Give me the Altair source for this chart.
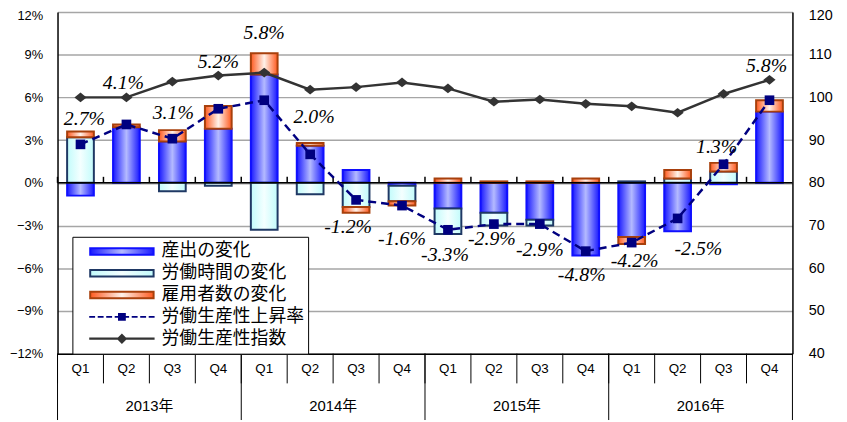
import altair as alt
import pandas as pd

# ---------------- data ----------------
years = ["2013年", "2014年", "2015年", "2016年"]
quarters = ["Q1", "Q2", "Q3", "Q4"]
series_names = ["産出の変化", "労働時間の変化", "雇用者数の変化", "労働生産性上昇率", "労働生産性指数"]

output_chg = [-0.9, 3.9, 2.9, 3.8, 7.6, 2.6, 0.9, -0.2, -1.8, -2.1, -2.6, -5.1, -3.8, -3.4, -0.1, 5.0]
hours_chg = [3.2, 0.0, -0.6, -0.2, -3.3, -0.8, -1.7, -1.1, -1.8, -0.9, -0.4, 0.0, 0.1, 0.3, 0.8, 0.0]
employ_chg = [0.4, 0.2, 0.8, 1.6, 1.5, 0.2, -0.4, -0.3, 0.3, 0.1, 0.1, 0.3, -0.5, 0.6, 0.6, 0.8]
prod_rate = [2.7, 4.1, 3.1, 5.2, 5.8, 2.0, -1.2, -1.6, -3.3, -2.9, -2.9, -4.8, -4.2, -2.5, 1.3, 5.8]
prod_index = [100.0, 100.0, 103.7, 105.1, 105.8, 101.8, 102.4, 103.5, 102.1, 99.0, 99.5, 98.5, 97.9, 96.4, 100.8, 104.1]

# annotation placement (in % units of the left axis) and horizontal nudge
label_pos = [4.5, 7.0, 4.9, 8.5, 10.5, 4.6, -3.1, -3.95, -5.05, -3.95, -4.7, -6.45, -5.5, -4.65, 2.5, 8.2]
label_dx = [4, -3, 1, 0, 0, 4, -8, 0, -3, -2, 0, -4, 3, 21, -7, -3]

cats = [f"{y[:4]}-{q}" for y in years for q in quarters]

# ---------------- tables ----------------
rows = []
for i, c in enumerate(cats):
    pos, neg = 0.0, 0.0
    for s, vals in zip(series_names[:3], [output_chg, hours_chg, employ_chg]):
        v = vals[i]
        if v == 0:
            continue
        if v > 0:
            y0 = pos
            pos += v
        else:
            y0 = neg
            neg += v
        rows.append(dict(cat=c, series=s, y0=y0, y1=y0 + v))
bars_df = pd.DataFrame(rows)

line_df = pd.DataFrame(dict(cat=cats, rate=prod_rate, index=prod_index,
                            lpos=label_pos, ldx=label_dx,
                            label=[f"{v:.1f}%" for v in prod_rate]))
cat_df = pd.DataFrame(dict(cat=cats))
year_start_df = pd.DataFrame(dict(cat=[c for c in cats if c.endswith("Q1")]))
year_end_df = pd.DataFrame(dict(cat=[cats[-1]]))
year_lab_df = pd.DataFrame(dict(cat=[c for c in cats if c.endswith("Q2")], year=years))
legend_df = pd.DataFrame(dict(series=series_names))

# ---------------- styles ----------------
W, H = 742, 345
SANS = "Liberation Sans, Arial, Noto Sans CJK JP"


def grad(edge, center):
    return alt.LinearGradient(
        gradient="linear", x1=0, x2=1, y1=0, y2=0,
        stops=[alt.GradientStop(offset=0, color=edge),
               alt.GradientStop(offset=0.5, color=center),
               alt.GradientStop(offset=1, color=edge)])


def grad_expr(edge, center):
    return ("{gradient:'linear',x1:0,x2:1,y1:0,y2:0,stops:["
            f"{{offset:0,color:'{edge}'}},{{offset:0.5,color:'{center}'}},{{offset:1,color:'{edge}'}}]}}")


bar_styles = {
    "産出の変化": (("#1a1aff", "#b4baff"), "#1010ff"),
    "労働時間の変化": (("#c2fbfb", "#f4ffff"), "#1f3864"),
    "雇用者数の変化": (("#ff5a1f", "#fff2ea"), "#a8400c"),
}

x_scale = alt.Scale(domain=cats, paddingInner=0, paddingOuter=0)
x_axis = alt.Axis(title=None, labelExpr="split(datum.value, '-')[1]", ticks=False,
                  domainColor="black", domainWidth=1.5, labelFont=SANS,
                  labelFontSize=13.5, labelColor="black", labelPadding=8, labelAngle=0)


def X(**kw):
    return alt.X("cat:N", scale=x_scale, axis=x_axis, sort=cats, **kw)


y_scale = alt.Scale(domain=[-12, 12], nice=False, zero=False)
y_axis = alt.Axis(title=None, values=list(range(-12, 13, 3)),
                  labelExpr="(datum.value < 0 ? '−' : '') + abs(datum.value) + '%'",
                  grid=True, gridColor="#a6a6a6", gridWidth=1.5, ticks=False,
                  domainColor="black", domainWidth=1.5, labelFont=SANS,
                  labelFontSize=13, labelColor="black", labelPadding=15,
                  labelOffset={"condition": {"test": "datum.value == 12", "value": 4}, "value": 0})


def Y(field):
    return alt.Y(field, scale=y_scale, axis=y_axis)


layers = []

# stacked bars
for s in series_names[:3]:
    (edge, center), stroke = bar_styles[s]
    layers.append(
        alt.Chart(bars_df).transform_filter(alt.datum.series == s)
        .mark_bar(size=27, fill=grad(edge, center), stroke=stroke, strokeWidth=2)
        .encode(x=X(), y=Y("y0:Q"), y2="y1:Q")
    )

# zero line and its small ticks
layers.append(
    alt.Chart(cat_df).mark_rule(color="black", strokeWidth=1.5)
    .encode(x=X(bandPosition=0), y=Y("z:Q"), y2=alt.datum(0.42))
    .transform_calculate(z="0")
)
layers.append(
    alt.Chart(cat_df.head(1)).mark_rule(color="black", strokeWidth=1.5)
    .encode(x=alt.value(0), x2=alt.value(W), y=Y("z:Q"))
    .transform_calculate(z="0")
)

# productivity growth rate
layers.append(
    alt.Chart(line_df).mark_line(color="#000080", strokeWidth=2.5, strokeDash=[8, 5])
    .encode(x=X(), y=Y("rate:Q"))
)
layers.append(
    alt.Chart(line_df).mark_point(shape="square", filled=True, size=95, color="#000080", opacity=1)
    .encode(x=X(), y=Y("rate:Q"))
)

# rate labels
for d in sorted(set(label_dx)):
    layers.append(
        alt.Chart(line_df).transform_filter(alt.datum.ldx == d)
        .mark_text(font="Liberation Serif", fontStyle="italic", fontSize=20, color="black", dx=d)
        .encode(x=X(), y=Y("lpos:Q"), text="label:N")
    )

# category table separators below the plot
layers.append(
    alt.Chart(cat_df).mark_rule(color="black", strokeWidth=1)
    .encode(x=X(bandPosition=0), y=alt.value(H), y2=alt.value(H + 30))
)
layers.append(
    alt.Chart(year_start_df).mark_rule(color="black", strokeWidth=1)
    .encode(x=X(bandPosition=0), y=alt.value(H), y2=alt.value(H + 67))
)
layers.append(
    alt.Chart(year_end_df).mark_rule(color="black", strokeWidth=1)
    .encode(x=X(bandPosition=1), y=alt.value(H), y2=alt.value(H + 67))
)
layers.append(
    alt.Chart(year_lab_df).mark_text(font=SANS, fontSize=15, color="black", dx=W / 32)
    .encode(x=X(), y=alt.value(H + 53), text="year:N")
)

# legend (built from a hidden layer)
paths = [
    "M-0.97,-0.1H0.97V0.1H-0.97Z",
    "M-0.97,-0.1H0.97V0.1H-0.97Z",
    "M-0.97,-0.1H0.97V0.1H-0.97Z",
    "M-1,-0.03H-0.82V0.03H-1Z M-0.74,-0.03H-0.56V0.03H-0.74Z M-0.48,-0.03H-0.3V0.03H-0.48Z "
    "M-0.22,-0.03H-0.12V0.03H-0.22Z M-0.12,-0.12H0.12V0.12H-0.12Z M0.12,-0.03H0.22V0.03H0.12Z "
    "M0.3,-0.03H0.48V0.03H0.3Z M0.56,-0.03H0.74V0.03H0.56Z M0.82,-0.03H1V0.03H0.82Z",
    "M-1,-0.035H1V0.035H-1Z M0,-0.16L0.16,0L0,0.16L-0.16,0Z",
]
legend_fill = [alt.ExprRef(expr=grad_expr(*bar_styles[s][0])) for s in series_names[:3]] + \
              ["#000080", "#333333"]
legend_stroke = [bar_styles[s][1] for s in series_names[:3]] + ["transparent", "transparent"]

leg = alt.Legend(
    title=None, orient="none", legendX=15, legendY=227,
    symbolSize=4356, clipHeight=21.7, rowPadding=0, padding=4, symbolOffset=12,
    labelOffset=6, labelFont="Noto Sans CJK JP", labelFontSize=18, labelColor="black",
    strokeColor="black", fillColor="white", symbolStrokeWidth=2, labelLimit=400,
    symbolOpacity=1,
)
layers.append(
    alt.Chart(legend_df).mark_point(filled=True, opacity=0, size=1)
    .encode(
        x=alt.value(0), y=alt.value(0),
        fill=alt.Fill("series:N", scale=alt.Scale(domain=series_names, range=legend_fill), legend=leg),
        stroke=alt.Stroke("series:N", scale=alt.Scale(domain=series_names, range=legend_stroke), legend=leg),
        shape=alt.Shape("series:N", scale=alt.Scale(domain=series_names, range=paths), legend=leg),
    )
)

left = alt.layer(*layers)

# productivity index (right axis)
r_axis = alt.Axis(title=None, orient="right", values=list(range(40, 121, 10)), grid=False,
                  ticks=False, domainColor="black", domainWidth=1.5, labelFont=SANS,
                  labelFontSize=14.5, labelColor="black", labelPadding=16,
                  labelOffset={"condition": {"test": "datum.value == 120", "value": 4}, "value": 0})
r_scale = alt.Scale(domain=[40, 120], nice=False, zero=False)
right = alt.layer(
    alt.Chart(line_df).mark_line(color="#333333", strokeWidth=2.5)
    .encode(x=X(), y=alt.Y("index:Q", scale=r_scale, axis=r_axis)),
    alt.Chart(line_df).mark_point(shape="M0,-0.8L1,0L0,0.8L-1,0Z", filled=True, size=150,
                                  color="#333333", opacity=1)
    .encode(x=X(), y=alt.Y("index:Q", scale=r_scale, axis=r_axis)),
)

chart = (
    alt.layer(left, right)
    .resolve_scale(y="independent")
    .properties(width=W, height=H,
                autosize=alt.AutoSizeParams(type="none"),
                padding={"left": 50, "top": 2, "right": 47, "bottom": 67},
                background="white")
    .configure_view(stroke=None)
)

chart.save("out.html", embed_options={"renderer": "svg", "actions": False})
